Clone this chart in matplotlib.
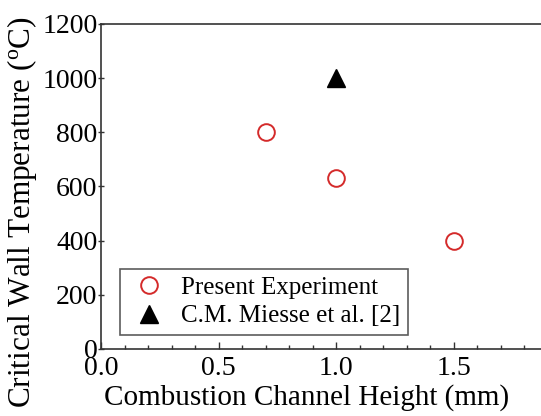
import matplotlib
matplotlib.use("Agg")
import matplotlib.pyplot as plt
from matplotlib.ticker import MultipleLocator

# Data
present_height = [0.7, 1.0, 1.5]
present_temp = [800, 630, 400]
miesse_height = [1.0]
miesse_temp = [1000]
x_ticks = [0.0, 0.5, 1.0, 1.5]
x_tick_labels = ["0.0", "0.5", "1.0", "1.5"]

plt.rcParams["font.family"] = ["Liberation Serif", "DejaVu Serif"]
plt.rcParams["mathtext.fontset"] = "stix"

W, H = 541, 416
fig = plt.figure(figsize=(W / 100, H / 100), dpi=100)

# Axes extend past the right edge, as in the cropped original
left, right, top, bottom = 101, 571, 24, 349
ax = fig.add_axes([left / W, 1 - bottom / H, (right - left) / W, (bottom - top) / H])

ax.plot(present_height, present_temp, "o", ms=12, mfc="none", mec="#d42a2a",
        mew=1.4, label="Present Experiment")
ax.plot(miesse_height, miesse_temp, "^", ms=13, color="black",
        label="C.M. Miesse et al. [2]")

ax.set_xlim(0, 2.0)
ax.set_ylim(0, 1200)
ax.set_xticks(x_ticks)
ax.set_xticklabels(x_tick_labels)
ax.xaxis.set_minor_locator(MultipleLocator(0.1))
ax.yaxis.set_major_locator(MultipleLocator(200))

for s in ax.spines.values():
    s.set_color("#333333")
    s.set_linewidth(1.2)

ax.tick_params(axis="x", which="major", direction="in", length=5, width=1,
               color="#333333", labelsize=20, pad=5)
ax.tick_params(axis="x", which="minor", direction="in", length=3, width=1,
               color="#333333")
ax.tick_params(axis="y", which="major", direction="inout", length=5, width=1,
               color="#333333", labelsize=20, pad=0)

leg = ax.legend(loc="lower left", bbox_to_anchor=(19 / (right - left), 14 / (bottom - top)),
                borderaxespad=0, fontsize=18, frameon=True, fancybox=False,
                handletextpad=0.45, borderpad=0.3, labelspacing=0.25,
                handlelength=1.7)
leg.get_frame().set_edgecolor("#333333")
leg.get_frame().set_linewidth(1.2)

fig.text(22 / W, 1 - 212 / H, "Critical Wall Temperature ($\\mathregular{^o}$C)",
         rotation=90, ha="center", va="center", fontsize=22.5)
fig.text(307 / W, 1 - 398 / H, "Combustion Channel Height (mm)",
         ha="center", va="center", fontsize=21)

fig.savefig("out.png", dpi=100)
